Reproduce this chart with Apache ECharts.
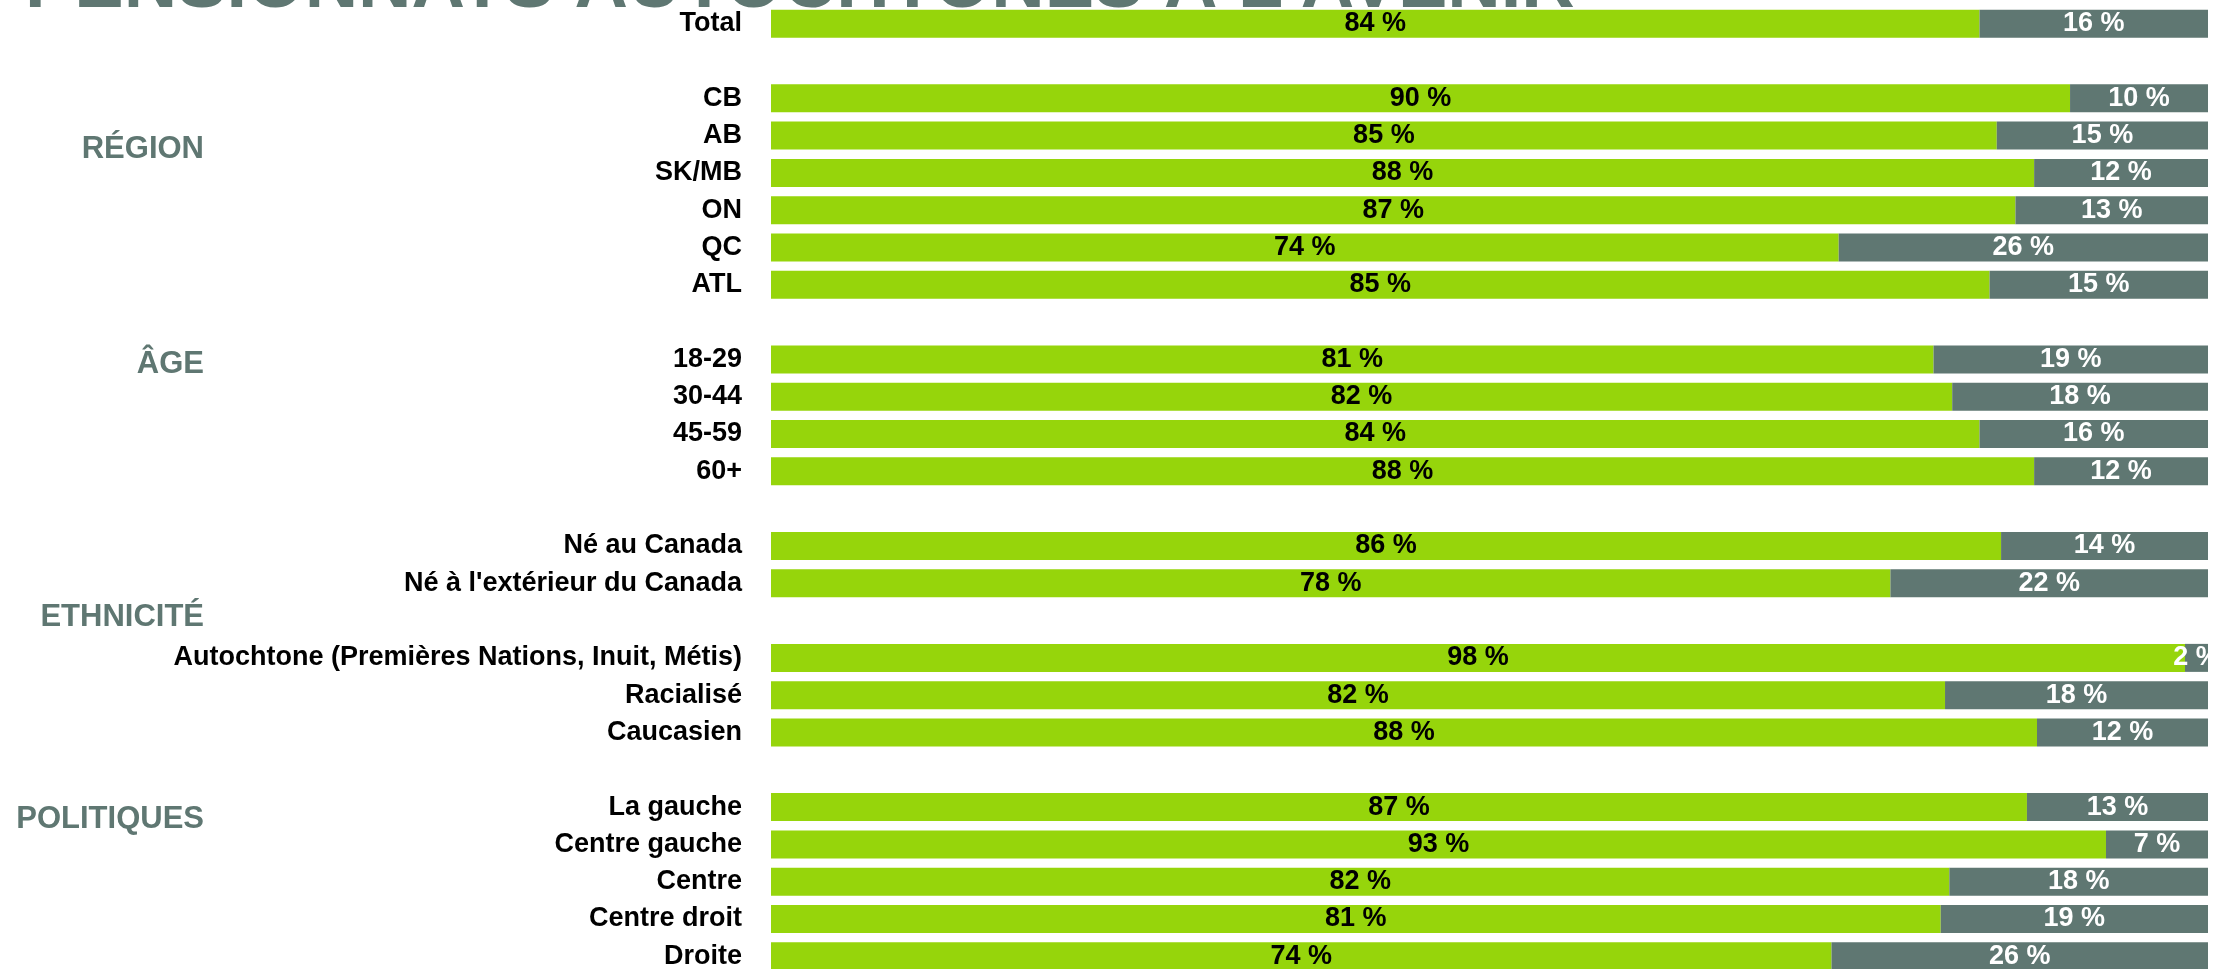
<!DOCTYPE html>
<html>
<head>
<meta charset="utf-8">
<script src="https://cdn.jsdelivr.net/npm/echarts@6/dist/echarts.min.js"></script>
<style>
html,body{margin:0;padding:0;background:#fff;}
#c{width:2218px;height:969px;}
</style>
</head>
<body>
<div id="c"></div>
<script>
// Row categories ('' = spacer rows)
const categories = [
  'Total', '',
  'CB', 'AB', 'SK/MB', 'ON', 'QC', 'ATL', '',
  '18-29', '30-44', '45-59', '60+', '',
  'Né au Canada', "Né à l'extérieur du Canada", '',
  'Autochtone (Premières Nations, Inuit, Métis)', 'Racialisé', 'Caucasien', '',
  'La gauche', 'Centre gauche', 'Centre', 'Centre droit', 'Droite'
];
// Share "yes" (green) and "no" (grey), in %
const greenValues = [
  84.1, null,
  90.4, 85.3, 87.9, 86.6, 74.3, 84.8, null,
  80.9, 82.2, 84.1, 87.9, null,
  85.6, 77.9, null,
  98.4, 81.7, 88.1, null,
  87.4, 92.9, 82.0, 81.4, 73.8
];
const greyValues = [
  15.9, null,
  9.6, 14.7, 12.1, 13.4, 25.7, 15.2, null,
  19.1, 17.8, 15.9, 12.1, null,
  14.4, 22.1, null,
  1.6, 18.3, 11.9, null,
  12.6, 7.1, 18.0, 18.6, 26.2
];
const groupLabels = ['RÉGION', 'ÂGE', 'ETHNICITÉ', 'POLITIQUES'];
const titleText = "PENSIONNATS AUTOCHTONES À L'AVENIR";

const GREEN = '#96d50b';
const GREY = '#5f7772';
const FONT = '"Liberation Sans", Arial, sans-serif';

const chart = echarts.init(document.getElementById('c'), null, {renderer: 'canvas'});

const groupY = [150, 365, 618, 820];
const graphics = [{
  type: 'text', left: 25, top: -50,
  style: {text: titleText, font: 'bold 74px ' + FONT, fill: GREY}
}];
groupLabels.forEach((g, i) => {
  graphics.push({
    type: 'text', right: 2218 - 204, top: groupY[i] - 16,
    style: {text: g, font: 'bold 31px ' + FONT, fill: GREY}
  });
});

const fmt = p => (p.value == null ? '' : Math.round(p.value) + ' %');

chart.setOption({
  animation: false,
  backgroundColor: '#fff',
  graphic: graphics,
  grid: {left: 771, right: 10, top: 5, height: 970, outerBoundsMode: 'none', containLabel: false},
  xAxis: {type: 'value', min: 0, max: 100, show: false},
  yAxis: {
    type: 'category', data: categories, inverse: true,
    axisLine: {show: false}, axisTick: {show: false}, splitLine: {show: false},
    axisLabel: {
      margin: 29, color: '#000', fontSize: 27, fontWeight: 'bold', fontFamily: FONT,
      interval: 0
    }
  },
  series: [{
    name: 'Oui', type: 'bar', stack: 's', data: greenValues, barWidth: 28,
    itemStyle: {color: GREEN},
    label: {show: true, position: 'inside', formatter: fmt, color: '#000',
      fontSize: 27, fontWeight: 'bold', fontFamily: FONT}
  }, {
    name: 'Non', type: 'bar', stack: 's', data: greyValues, barWidth: 28,
    itemStyle: {color: GREY},
    label: {show: true, position: 'inside', formatter: fmt, color: '#fff',
      fontSize: 27, fontWeight: 'bold', fontFamily: FONT}
  }]
});
</script>
</body>
</html>
